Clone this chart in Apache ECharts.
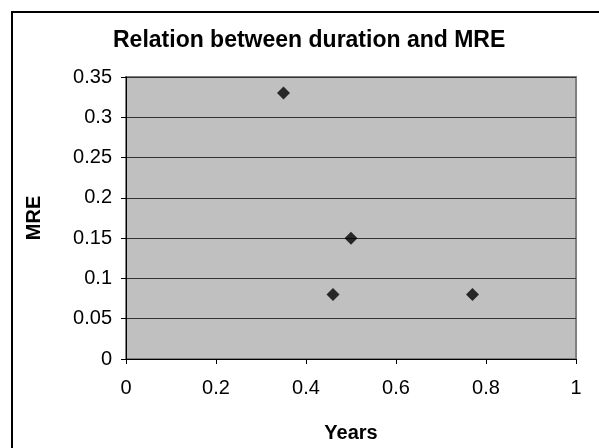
<!DOCTYPE html>
<html>
<head>
<meta charset="utf-8">
<script src="https://cdn.jsdelivr.net/npm/echarts@6/dist/echarts.min.js"></script>
<style>
html,body{margin:0;padding:0;background:#fff;}
#chart{width:599px;height:448px;}
</style>
</head>
<body>
<div id="chart"></div>
<script>
var titleText = "Relation between duration and MRE";
var xName = "Years";
var yName = "MRE";
var years = [0.35, 0.50, 0.46, 0.77];
var mre = [0.33, 0.15, 0.08, 0.08];

var pts = years.map(function(x, i){ return [x, mre[i]]; });
var FONT = '"Liberation Sans", Arial, sans-serif';

var chart = echarts.init(document.getElementById('chart'), null, {renderer: 'canvas'});
chart.setOption({
  animation: false,
  backgroundColor: '#ffffff',
  title: {
    text: titleText,
    left: 113,
    top: 29,
    padding: 0,
    textStyle: {fontFamily: FONT, fontWeight: 'bold', fontSize: 23, color: '#000'}
  },
  graphic: [{
    type: 'rect',
    shape: {x: 12, y: 12, width: 800, height: 800},
    style: {fill: 'none', stroke: '#000', lineWidth: 2},
    silent: true,
    z: 100
  }],
  grid: {left: 126, right: 23, top: 77, bottom: 89, show: true, backgroundColor: '#C0C0C0', borderColor: '#808080', borderWidth: 2},
  xAxis: {
    type: 'value', min: 0, max: 1, interval: 0.2,
    name: xName, nameLocation: 'middle', nameGap: 64,
    nameTextStyle: {fontFamily: FONT, fontWeight: 'bold', fontSize: 20, color: '#000'},
    axisLine: {show: true, onZero: false, lineStyle: {color: '#000', width: 1}},
    axisTick: {show: true, length: 5, lineStyle: {color: '#000'}},
    axisLabel: {fontFamily: FONT, fontSize: 20, color: '#000', margin: 19},
    splitLine: {show: false}
  },
  yAxis: {
    type: 'value', min: 0, max: 0.35, interval: 0.05,
    name: yName, nameLocation: 'middle', nameGap: 82,
    nameTextStyle: {fontFamily: FONT, fontWeight: 'bold', fontSize: 20, color: '#000'},
    axisLine: {show: true, onZero: false, lineStyle: {color: '#000', width: 1}},
    axisTick: {show: true, length: 5, lineStyle: {color: '#000'}},
    axisLabel: {fontFamily: FONT, fontSize: 20, color: '#000', margin: 14},
    splitLine: {show: true, lineStyle: {color: '#333', width: 1}}
  },
  series: [{
    type: 'scatter',
    data: pts,
    symbol: 'diamond',
    symbolSize: 13,
    itemStyle: {color: '#000'}
  }]
});
</script>
</body>
</html>
